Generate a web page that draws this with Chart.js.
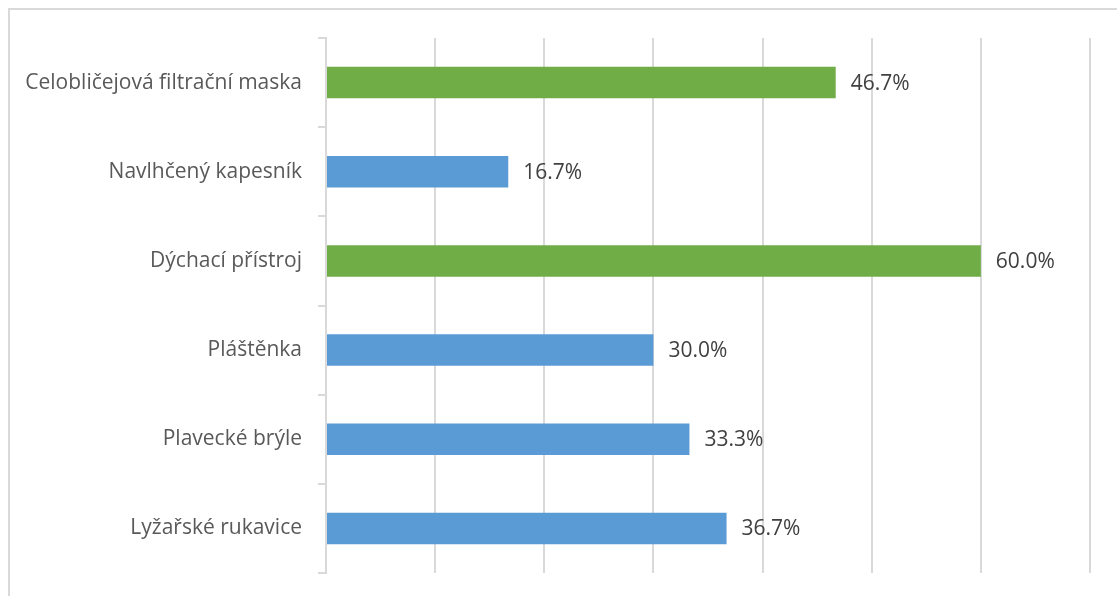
<!DOCTYPE html>
<html>
<head>
<meta charset="utf-8">
<script src="https://cdn.jsdelivr.net/npm/chart.js@4/dist/chart.umd.min.js"></script>
<style>
    html, body { margin: 0; padding: 0; background: #fff; overflow: hidden; }
    #wrap { position: absolute; left: 0; top: 0; width: 1117px; height: 596px; }
    #frame { position: absolute; left: 8px; top: 8px; width: 1200px; height: 700px; border: 2px solid #d9d9d9; box-sizing: border-box; }
</style>
</head>
<body>
<div id="frame"></div>
<div id="wrap"><canvas id="barChart"></canvas></div>
<script>
const categories = [
    'Celobličejová filtrační maska',
    'Navlhčený kapesník',
    'Dýchací přístroj',
    'Pláštěnka',
    'Plavecké brýle',
    'Lyžařské rukavice'
];
const values = [46.7, 16.7, 60.0, 30.0, 33.3, 36.7];
const highlighted = [true, false, true, false, false, false];
const xTicks = [0, 10, 20, 30, 40, 50, 60, 70];

const GREEN = '#70AD47';
const BLUE = '#5B9BD5';
const FONT = "'Open Sans', sans-serif";

// value labels to the right of each bar
const valueLabels = {
    id: 'valueLabels',
    afterDatasetsDraw(chart) {
        const ctx = chart.ctx;
        const meta = chart.getDatasetMeta(0);
        ctx.save();
        ctx.font = '21px ' + FONT;
        ctx.fillStyle = '#404040';
        ctx.textAlign = 'left';
        ctx.textBaseline = 'middle';
        meta.data.forEach((bar, i) => {
            ctx.fillText(values[i].toFixed(1) + '%', bar.x + 15, bar.y + 1);
        });
        ctx.restore();
    }
};

const ctx = document.getElementById('barChart').getContext('2d');
new Chart(ctx, {
    type: 'bar',
    data: {
        labels: categories,
        datasets: [{
            data: values,
            backgroundColor: highlighted.map(h => h ? GREEN : BLUE),
            barPercentage: 0.354,
            categoryPercentage: 1.0
        }]
    },
    options: {
        indexAxis: 'y',
        responsive: true,
        maintainAspectRatio: false,
        animation: false,
        layout: { padding: { top: 38, right: 27, bottom: 23, left: 0 } },
        plugins: {
            legend: { display: false },
            tooltip: { enabled: false }
        },
        scales: {
            x: {
                min: 0, max: 70,
                afterBuildTicks: axis => { axis.ticks = xTicks.map(v => ({ value: v })); },
                afterFit: axis => { axis.height = 0; },
                ticks: { display: false },
                grid: { color: '#d9d9d9', lineWidth: 2, drawTicks: false },
                border: { display: false }
            },
            y: {
                afterFit: axis => {
                    axis.width = 326;
                    axis.paddingTop = 0;
                    axis.paddingBottom = 0;
                },
                ticks: { color: '#595959', font: { family: FONT, size: 21 }, padding: 16 },
                grid: { drawOnChartArea: false, drawTicks: true, tickLength: 8, color: '#d9d9d9', lineWidth: 2, offset: true },
                border: { color: '#d9d9d9', width: 2 }
            }
        }
    },
    plugins: [valueLabels]
});
</script>
</body>
</html>
